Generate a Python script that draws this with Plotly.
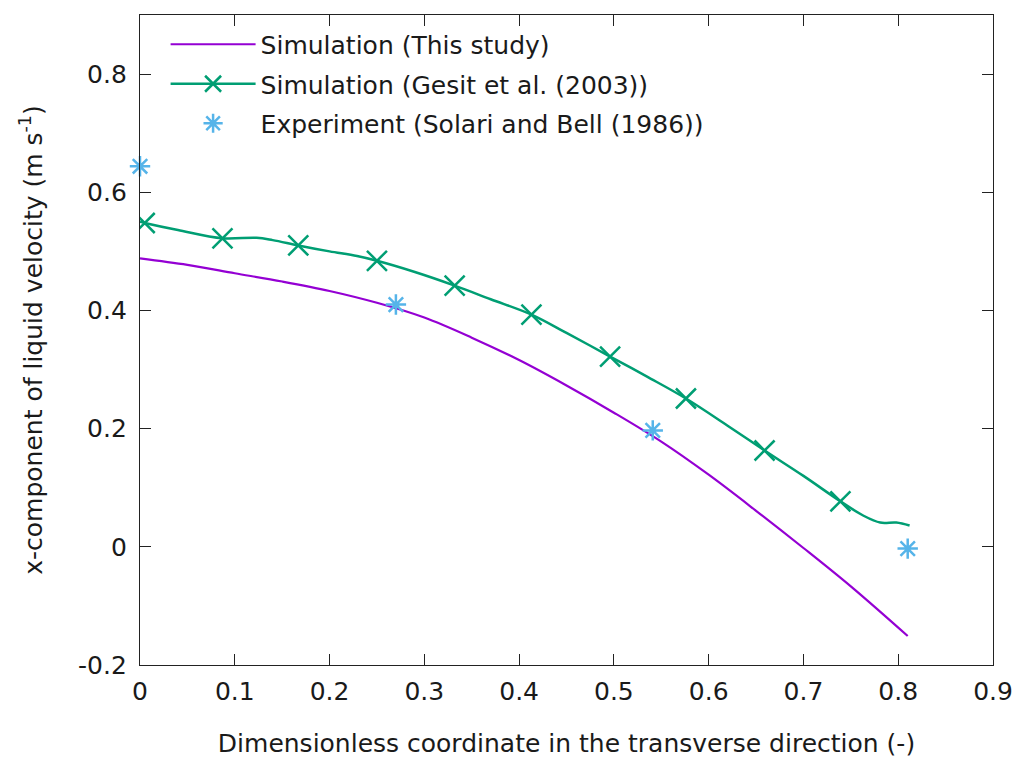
import plotly.graph_objects as go

# This study (simulation)
study_x = [0, 0.05, 0.1, 0.15, 0.2, 0.25, 0.3, 0.35, 0.4, 0.45, 0.5, 0.55, 0.6, 0.65, 0.7, 0.75, 0.81]
study_y = [0.488, 0.477, 0.463, 0.449, 0.433, 0.413, 0.388, 0.354, 0.316, 0.273, 0.227, 0.178, 0.122, 0.061, -0.002, -0.067, -0.151]

# Gesit et al. (2003) simulation - full curve
gesit_x = [0, 0.005, 0.04, 0.087, 0.123, 0.14, 0.167, 0.2, 0.229, 0.25, 0.29, 0.332, 0.37, 0.413, 0.45,
           0.496, 0.535, 0.576, 0.62, 0.659, 0.70, 0.739, 0.763, 0.781, 0.798, 0.812]
gesit_y = [0.550, 0.548, 0.536, 0.522, 0.523, 0.519, 0.510, 0.500, 0.492, 0.484, 0.465, 0.442, 0.419, 0.393, 0.362,
           0.322, 0.288, 0.251, 0.205, 0.163, 0.120, 0.077, 0.053, 0.041, 0.041, 0.036]
# Gesit et al. marker points
gesit_mx = [0.005, 0.087, 0.167, 0.250, 0.332, 0.413, 0.496, 0.576, 0.659, 0.739]
gesit_my = [0.548, 0.522, 0.510, 0.484, 0.442, 0.393, 0.322, 0.251, 0.163, 0.077]

# Experiment (Solari and Bell 1986)
exp_x = [0.0, 0.27, 0.541, 0.81]
exp_y = [0.644, 0.410, 0.197, -0.003]

x_ticks = [0, 0.1, 0.2, 0.3, 0.4, 0.5, 0.6, 0.7, 0.8, 0.9]
x_labels = ["0", "0.1", "0.2", "0.3", "0.4", "0.5", "0.6", "0.7", "0.8", "0.9"]
y_ticks = [-0.2, 0, 0.2, 0.4, 0.6, 0.8]
y_labels = ["-0.2", "0", "0.2", "0.4", "0.6", "0.8"]

PURPLE = "#9400d3"
GREEN = "#009e73"
BLUE = "#56b4e9"
FONT = "DejaVu Sans"
TXT = "#1a1a1a"
FS = 25

fig = go.Figure()
fig.add_trace(go.Scatter(x=study_x, y=study_y, mode="lines", name="Simulation (This study)",
                         line=dict(color=PURPLE, width=2.2, shape="spline"), legendgroup="a"))
fig.add_trace(go.Scatter(x=gesit_x, y=gesit_y, mode="lines", showlegend=False,
                         line=dict(color=GREEN, width=2.5, shape="spline"), legendgroup="b"))
fig.add_trace(go.Scatter(x=gesit_mx, y=gesit_my, mode="markers", showlegend=False,
                         marker=dict(symbol="x-thin-open", size=20, color=GREEN,
                                     line=dict(color=GREEN, width=2.5)), legendgroup="b"))
fig.add_trace(go.Scatter(x=[None], y=[None], mode="lines+markers", name="Simulation (Gesit et al. (2003))",
                         line=dict(color=GREEN, width=2.5),
                         marker=dict(symbol="x-thin-open", size=20, color=GREEN,
                                     line=dict(color=GREEN, width=2.5)), legendgroup="b"))
fig.add_trace(go.Scatter(x=exp_x, y=exp_y, mode="markers", name="Experiment (Solari and Bell (1986))",
                         marker=dict(symbol="asterisk-open", size=17, color=BLUE,
                                     line=dict(color=BLUE, width=2.5)), legendgroup="c", cliponaxis=False))

axis_common = dict(showline=True, linecolor="#222", linewidth=1.3, mirror="ticks",
                   ticks="inside", ticklen=11, tickwidth=1.3, tickcolor="#222",
                   showgrid=False, zeroline=False, automargin=False,
                   tickfont=dict(family=FONT, size=FS, color=TXT))

fig.update_layout(
    width=1019, height=758,
    margin=dict(l=140, r=26, t=15, b=93),
    paper_bgcolor="white", plot_bgcolor="white",
    font=dict(family=FONT, size=FS, color=TXT),
    xaxis=dict(range=[0, 0.9], tickvals=x_ticks, ticktext=x_labels, ticklabelstandoff=4,
               title=dict(text="Dimensionless coordinate in the transverse direction (-)",
                          font=dict(family=FONT, size=FS, color=TXT), standoff=30),
               **axis_common),
    yaxis=dict(range=[-0.2, 0.9], tickvals=y_ticks, ticktext=y_labels, ticklabelstandoff=7,
               title=dict(text="x-component of liquid velocity (m s<sup>-1</sup>)",
                          font=dict(family=FONT, size=FS, color=TXT), standoff=28),
               **axis_common),
    legend=dict(x=0.03, y=0.99, xanchor="left", yanchor="top", bgcolor="rgba(0,0,0,0)",
                font=dict(family=FONT, size=FS, color=TXT),
                traceorder="grouped", tracegroupgap=4, itemwidth=85),
    showlegend=True,
)

fig.write_html("out.html")
